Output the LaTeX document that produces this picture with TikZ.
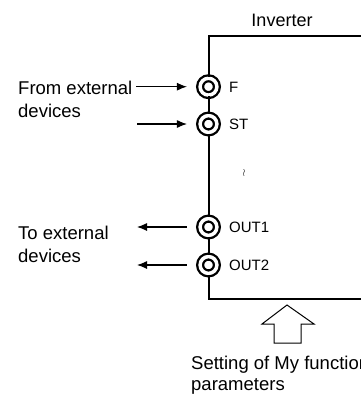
\documentclass[tikz,border=0pt]{standalone}
\usepackage{fontspec}
\setmainfont{Liberation Sans}
\usetikzlibrary{arrows.meta}
\begin{document}
\begin{tikzpicture}[x=1pt,y=-1pt,
        terminal/.style={circle, draw=black, line width=2.3pt, double=white, double distance=3.5pt, fill=white, minimum size=16.8pt, inner sep=0pt},
        termlabel/.style={anchor=west, font=\fontsize{15}{17}\selectfont, inner sep=0pt},
        textnode/.style={anchor=base west, align=left, font=\fontsize{18.5}{23}\selectfont, inner sep=0pt},
        sig/.style={-{Latex[length=10pt,width=8pt]}, line width=1.1pt},
    ]
        \useasboundingbox (0,0) rectangle (361,394);

        %Nodes
        \node[terminal] (f) at (208.5,86.7) {};
        \node[terminal] (st) at (208.5,124) {};
        \node[terminal] (out1) at (208.5,227) {};
        \node[terminal] (out2) at (208.5,265) {};

        \node[termlabel] (f_t) at (229,87.5) {F};
        \node[termlabel] (st_t) at (229,124.5) {ST};
        \node[termlabel] (out1_t) at (229,227.5) {OUT1};
        \node[termlabel] (out2_t) at (229,265.5) {OUT2};

        \node[font=\fontsize{18}{20}\selectfont] (inv) at (282,20) {Inverter};
        \node (gap) at (244,173) {$\wr$};

        \node[textnode] (from_t) at (18,117.7) {From external\\devices};
        \node[textnode] (to_t) at (18,262) {To external\\devices};
        \node[textnode, font=\fontsize{18.5}{21}\selectfont] (set_t) at (191,390) {Setting of My function\\parameters};

        \coordinate (tl) at (208.5,35.5);
        \coordinate (tr) at (370,35.5);
        \coordinate (br) at (370,299);
        \coordinate (bl) at (208.5,299);

        \coordinate (fin) at (136,86.7);
        \coordinate (stin) at (137,124);
        \coordinate (out1end) at (137,227);
        \coordinate (out2end) at (137,265);

        %Lines
        \draw[line width=2pt] (tr) -- (tl) -- (f);
        \draw[line width=2pt] (f) -- (st);
        \draw[line width=2pt] (st) -- (out1);
        \draw[line width=2pt] (out1) -- (out2);
        \draw[line width=2pt] (out2) -- (bl) -- (br);

        \draw[sig, shorten >=12pt] (fin) -- (f);
        \draw[sig, shorten >=12pt] (stin) -- (st);
        \draw[sig, shorten <=12pt] (out1) -- (out1end);
        \draw[sig, shorten <=12pt] (out2) -- (out2end);

        % setting arrow
        \draw[line width=1pt] (274,343) -- (274,324) -- (262,324) -- (287,305) -- (314,324) -- (301,324) -- (301,343) -- cycle;
    \end{tikzpicture}
\end{document}
